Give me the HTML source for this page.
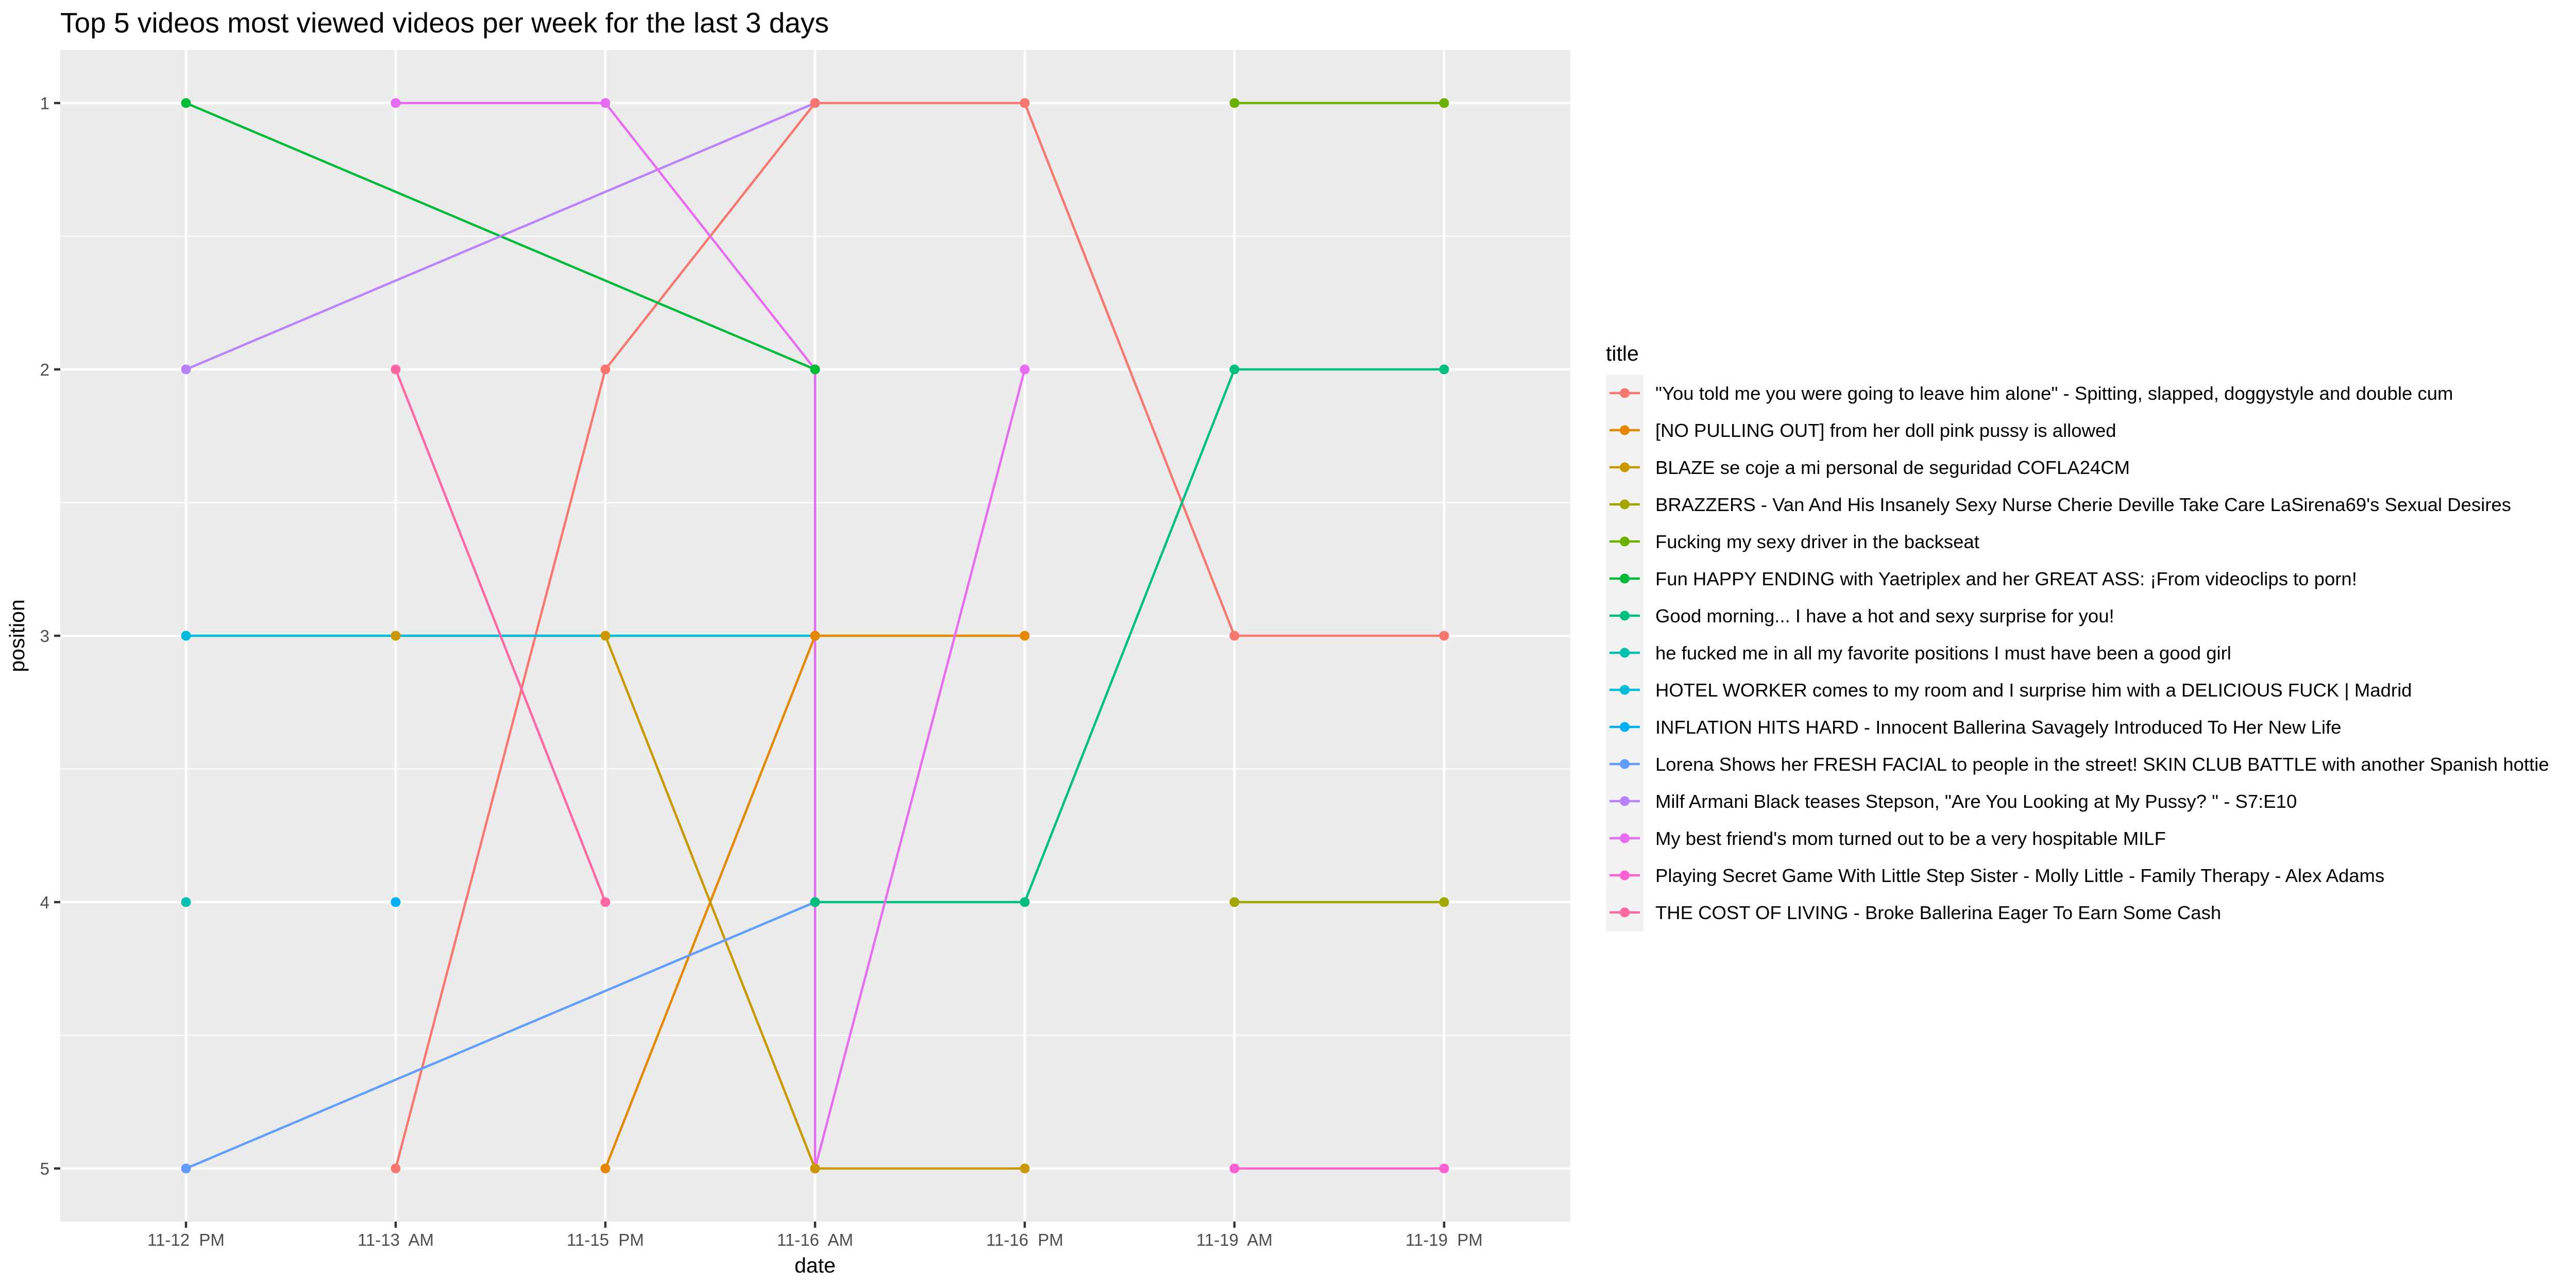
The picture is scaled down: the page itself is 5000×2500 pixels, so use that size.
<!DOCTYPE html>
<html><head><meta charset="utf-8"><style>
html,body{margin:0;padding:0;background:#fff;}
svg{display:block;font-family:"Liberation Sans",Arial,sans-serif;}
</style></head><body>
<svg id="chart" width="5000" height="2500" viewBox="0 0 5000 2500" xmlns="http://www.w3.org/2000/svg">
<rect x="0" y="0" width="5000" height="2500" fill="#fff"/>
<text x="117" y="63" font-size="55" fill="#000">Top 5 videos most viewed videos per week for the last 3 days</text>
<rect x="117" y="97" width="2931" height="2274" fill="#ebebeb"/>
<g id="grid"></g>
<g id="lines"></g>
<g id="points"></g>
<g id="axes"></g>
<text x="1582" y="2470" font-size="41" text-anchor="middle" fill="#000">date</text>
<text x="0" y="0" font-size="41" text-anchor="middle" fill="#000" transform="translate(47,1234) rotate(-90)">position</text>
<text x="3117" y="700" font-size="41" fill="#000">title</text>
<rect x="3117" y="727" width="73" height="1081" fill="#f2f2f2"/>
<g id="legend"></g>
</svg>
<script>
const categories = ["11-12  PM","11-13  AM","11-15  PM","11-16  AM","11-16  PM","11-19  AM","11-19  PM"];
const yTicks = [1,2,3,4,5];
const titles = [
 "\"You told me you were going to leave him alone\" - Spitting, slapped, doggystyle and double cum",
 "[NO PULLING OUT] from her doll pink pussy is allowed",
 "BLAZE se coje a mi personal de seguridad COFLA24CM",
 "BRAZZERS - Van And His Insanely Sexy Nurse Cherie Deville Take Care LaSirena69's Sexual Desires",
 "Fucking my sexy driver in the backseat",
 "Fun HAPPY ENDING with Yaetriplex and her GREAT ASS: ¡From videoclips to porn!",
 "Good morning... I have a hot and sexy surprise for you!",
 "he fucked me in all my favorite positions I must have been a good girl",
 "HOTEL WORKER comes to my room and I surprise him with a DELICIOUS FUCK | Madrid",
 "INFLATION HITS HARD - Innocent Ballerina Savagely Introduced To Her New Life",
 "Lorena Shows her FRESH FACIAL to people in the street! SKIN CLUB BATTLE with another Spanish hottie",
 "Milf Armani Black teases Stepson, \"Are You Looking at My Pussy? \" - S7:E10",
 "My best friend's mom turned out to be a very hospitable MILF",
 "Playing Secret Game With Little Step Sister - Molly Little - Family Therapy - Alex Adams",
 "THE COST OF LIVING - Broke Ballerina Eager To Earn Some Cash"
];
const colors = ["#F8766D","#E58700","#C99800","#A3A500","#6BB100","#00BA38","#00BF7D","#00C0AF","#00BCD8","#00B0F6","#619CFF","#B983FF","#E76BF3","#FD61D1","#FF67A4"];
// date index per observation, per series
const seriesDates = [
 [1,2,3,4,5,6],
 [2,3,4],
 [1,2,3,4],
 [5,6],
 [5,6],
 [0,3],
 [3,4,5,6],
 [0],
 [0,3],
 [1],
 [0,3],
 [0,3],
 [1,2,3,3,4],
 [5,6],
 [1,2]
];
// position (rank) per observation, per series
const seriesPositions = [
 [5,2,1,1,3,3],
 [5,3,3],
 [3,3,5,5],
 [4,4],
 [1,1],
 [1,2],
 [4,4,2,2],
 [4],
 [3,3],
 [4],
 [5,4],
 [2,1],
 [1,1,2,5,2],
 [5,5],
 [2,4]
];

const NS = "http://www.w3.org/2000/svg";
const X0 = 361, XSTEP = 407, Y1 = 200, YSTEP = 517;
function xScale(i){ return X0 + i*XSTEP; }
function yScale(v){ return Y1 + (v-1)*YSTEP; }
function mk(tag, attrs, parent){ const e=document.createElementNS(NS,tag); for(const k in attrs) e.setAttribute(k,attrs[k]); parent.appendChild(e); return e; }

const grid=document.getElementById('grid'), lines=document.getElementById('lines'), pts=document.getElementById('points'), axes=document.getElementById('axes'), legend=document.getElementById('legend');

for(let k=0;k<yTicks.length-1;k++){
  const v=(yTicks[k]+yTicks[k+1])/2;
  const g=mk('line',{x1:117,x2:3048,y1:yScale(v),y2:yScale(v),stroke:'#fff','stroke-width':2},grid);
  
  
}
yTicks.forEach(v=>{
  const g=mk('line',{x1:117,x2:3048,y1:yScale(v),y2:yScale(v),stroke:'#fff','stroke-width':4.5},grid);
  
  
  const t=mk('line',{x1:105,x2:117,y1:yScale(v),y2:yScale(v),stroke:'#333','stroke-width':4.5},axes);
  
  
  const l=mk('text',{x:96,y:yScale(v)+12,'font-size':33,'text-anchor':'end',fill:'#4d4d4d'},axes);
  l.textContent=v;
  
  
});
categories.forEach((c,i)=>{
  const g=mk('line',{x1:xScale(i),x2:xScale(i),y1:97,y2:2371,stroke:'#fff','stroke-width':4.5},grid);
  
  
  const t=mk('line',{x1:xScale(i),x2:xScale(i),y1:2371,y2:2383,stroke:'#333','stroke-width':4.5},axes);
  
  
  const l=mk('text',{x:xScale(i),y:2418,'font-size':33,'text-anchor':'middle',fill:'#4d4d4d'},axes);
  l.style.whiteSpace='pre';
  l.textContent=c;
  
  
});

seriesDates.forEach((ds,s)=>{
  const ps=seriesPositions[s];
  if(ds.length>1){
    const d=ds.map((di,j)=>(j?'L':'M')+xScale(di)+' '+yScale(ps[j])).join(' ');
    const p=mk('path',{d:d,fill:'none',stroke:colors[s],'stroke-width':4.5,'stroke-linejoin':'round'},lines);
    
    
  }
});
for(let s=seriesDates.length-1;s>=0;s--){
  const ds=seriesDates[s], ps=seriesPositions[s];
  ds.forEach((di,j)=>{
    const c=mk('circle',{cx:xScale(di),cy:yScale(ps[j]),r:9.5,fill:colors[s]},pts);
    
    
  });
}

titles.forEach((t,i)=>{
  const cy=727+36+i*72;
  const g=mk('g',{},legend);
  
  
  mk('line',{x1:3124,x2:3183,y1:cy,y2:cy,stroke:colors[i],'stroke-width':4.5},g);
  mk('circle',{cx:3153.5,cy:cy,r:9.5,fill:colors[i]},g);
  const tx=mk('text',{x:3213,y:cy+13,'font-size':36.5,fill:'#000'},g);
  tx.textContent=t;
});
</script>
</body></html>
